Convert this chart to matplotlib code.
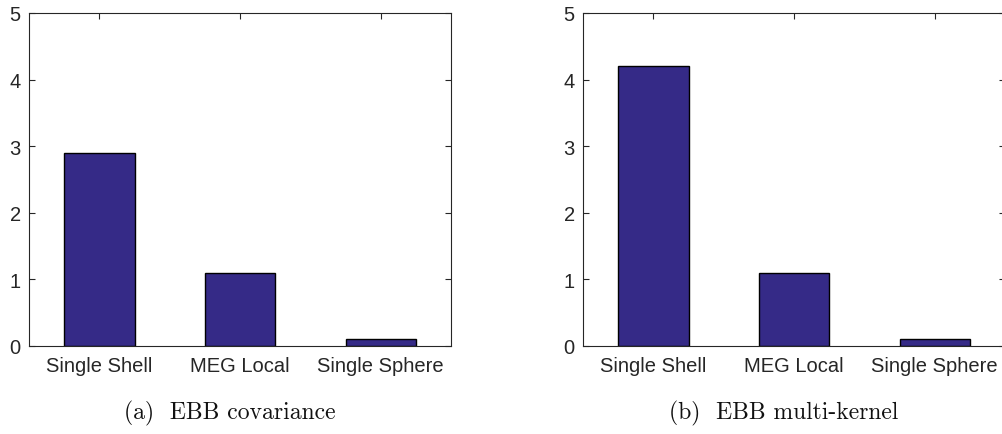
import matplotlib
matplotlib.use("Agg")
import matplotlib.pyplot as plt

categories = ["Single Shell", "MEG Local", "Single Sphere"]
covariance_values = [2.9, 1.1, 0.1]
multikernel_values = [4.2, 1.1, 0.1]
y_ticks = [0, 1, 2, 3, 4, 5]
captions = ["(a)  EBB covariance", "(b)  EBB multi-kernel"]

W, H = 1002, 435
fig = plt.figure(figsize=(W / 100, H / 100), dpi=100)

bar_color = "#352a87"
axis_color = "#262626"

panels = [
    (29, 451, covariance_values, captions[0]),
    (583, 1005, multikernel_values, captions[1]),
]
top, bottom = 14, 347

for left, right, vals, cap in panels:
    ax = fig.add_axes([left / W, 1 - bottom / H, (right - left) / W, (bottom - top) / H])
    x = list(range(1, len(categories) + 1))
    ax.bar(x, vals, width=0.5, color=bar_color, edgecolor="black", linewidth=1.0, zorder=2)
    ax.set_xlim(0.5, 3.5)
    ax.set_ylim(0, 5)
    ax.set_xticks(x)
    ax.set_xticklabels(categories)
    ax.set_yticks(y_ticks)
    ax.tick_params(direction="in", length=4, width=0.8, color=axis_color,
                   labelcolor=axis_color, labelsize=14.5, top=True, right=True)
    ax.tick_params(axis="x", pad=7)
    ax.tick_params(axis="y", pad=6)
    for lbl in ax.get_xticklabels() + ax.get_yticklabels():
        lbl.set_family(["Liberation Sans", "DejaVu Sans"])
    for s in ax.spines.values():
        s.set_color(axis_color)
        s.set_linewidth(0.8)
    cx = (left + right) / 2 - 10
    fig.text(cx / W, 1 - 413 / H, cap, ha="center", va="center",
             fontsize=17, family=["cmr10", "DejaVu Serif"], color="#111111")

fig.savefig("out.png", dpi=100)
